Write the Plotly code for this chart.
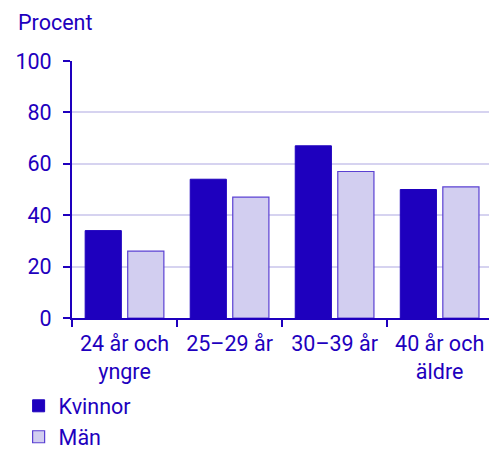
import plotly.graph_objects as go

categories = ["24 år och<br>yngre", "25–29 år", "30–39 år", "40 år och<br>äldre"]
kvinnor = [34, 54, 67, 50]
man = [26, 47, 57, 51]
y_ticks = [0, 20, 40, 60, 80, 100]

dark = "#1E00BE"
light = "#D2CEF0"
line_light = "#5A40D2"
grid = "#D6D3F0"
fs = 21.5

fig = go.Figure()
fig.add_trace(go.Bar(x=categories, y=kvinnor, name="Kvinnor",
                     marker=dict(color=dark, line=dict(color=dark, width=1))))
fig.add_trace(go.Bar(x=categories, y=man, name="Män",
                     marker=dict(color=light, line=dict(color=line_light, width=1.2))))

fig.update_layout(
    width=489, height=449,
    margin=dict(l=72, r=0, t=61, b=131, autoexpand=False),
    paper_bgcolor="white", plot_bgcolor="white",
    font=dict(family="Roboto", size=fs, color=dark),
    barmode="group", bargap=0.19, bargroupgap=0.15,
    showlegend=True,
    legend=dict(x=-0.128, xanchor="left", y=-0.262, yanchor="top",
                orientation="v", font=dict(size=fs, color=dark),
                itemwidth=30, tracegroupgap=0),
    annotations=[dict(text="Procent", xref="paper", yref="paper",
                      x=-0.135, y=1.205, xanchor="left", yanchor="top",
                      showarrow=False, font=dict(size=fs, color=dark))],
)
fig.update_xaxes(range=[-0.5, 3.47], showline=True, linecolor=dark, linewidth=2,
                 ticks="outside", tickson="boundaries", ticklen=7, tickwidth=2,
                 tickcolor=dark, showgrid=False, tickfont=dict(size=fs, color=dark),
                 automargin=False, ticklabelstandoff=5)
fig.update_yaxes(range=[0, 100], tickvals=y_ticks, showline=True, linecolor=dark,
                 linewidth=2, ticks="outside", ticklen=7, tickwidth=2, tickcolor=dark,
                 showgrid=True, gridcolor=grid, gridwidth=2, zeroline=False,
                 tickfont=dict(size=fs, color=dark), automargin=False,
                 ticklabelstandoff=7)

fig.write_html("out.html", config={"displayModeBar": False},
               post_script="document.body.style.margin='0';")
